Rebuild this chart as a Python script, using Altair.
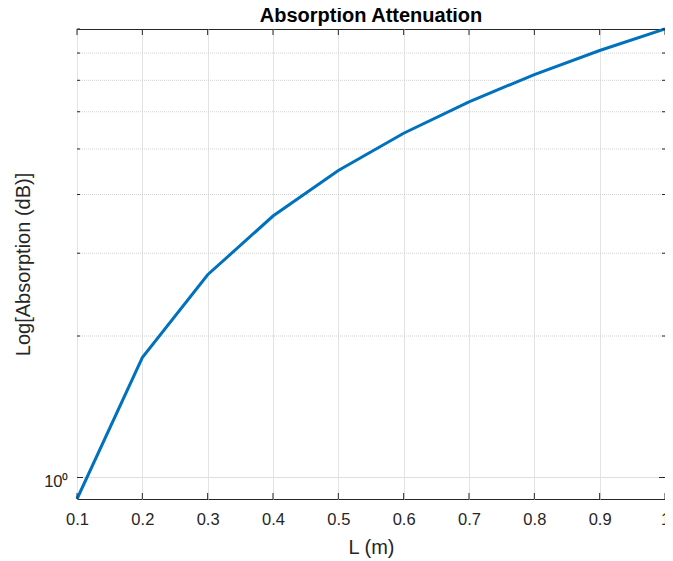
import altair as alt
import pandas as pd

# data
L_values = [0.1, 0.2, 0.3, 0.4, 0.5, 0.6, 0.7, 0.8, 0.9, 1.0]
absorption = [0.9, 1.8, 2.7, 3.6, 4.5, 5.4, 6.3, 7.2, 8.1, 9.0]
x_ticks = [0.1, 0.2, 0.3, 0.4, 0.5, 0.6, 0.7, 0.8, 0.9, 1.0]
y_minor = [2, 3, 4, 5, 6, 7, 8, 9]
y_grid_minor = [2, 3, 4, 5, 6, 7, 8]
y_major = [1]

W, H = 588, 470
FONT = "Liberation Sans"
TXT = "#262626"

xscale = alt.Scale(domain=[0.1, 1.0], nice=False, zero=False)
yscale = alt.Scale(type="log", domain=[0.9, 9.0], nice=False)

line_df = pd.DataFrame({"L": L_values, "A": absorption})
xt_df = pd.DataFrame({"v": x_ticks})
ymin_df = pd.DataFrame({"v": y_minor})
ygrid_df = pd.DataFrame({"v": y_grid_minor})
ymaj_df = pd.DataFrame({"v": y_major})

x_axis = alt.Axis(
    values=x_ticks, format=".1~f", title="L (m)", grid=True, gridColor="#e3e3e3",
    ticks=False, domain=False, labelPadding=12, labelFontSize=16.5, labelFont=FONT,
    labelColor=TXT, titleFont=FONT, titleFontSize=20, titleFontWeight="normal",
    titleColor=TXT, titlePadding=10, labelFlush=False,
)
y_axis = alt.Axis(
    values=[1], labelExpr="datum.value == 1 ? '10\u2070' : ''", title="Log[Absorption (dB)]",
    grid=False, ticks=False, domain=False, labelPadding=9, labelFontSize=16.5,
    labelFont=FONT, labelColor=TXT, labelOffset=4, titleFont=FONT, titleFontSize=20,
    titleFontWeight="normal", titleColor=TXT, titlePadding=10,
)

X = lambda f: alt.X(f, scale=xscale, axis=x_axis)
Y = lambda f: alt.Y(f, scale=yscale, axis=y_axis)

line = alt.Chart(line_df).mark_line(color="#0072BD", strokeWidth=3).encode(
    x=X("L:Q"), y=Y("A:Q"),
)

# y grid lines
grid_minor = alt.Chart(ygrid_df).mark_rule(color="#d2d2d2", strokeWidth=1, strokeDash=[1, 1]).encode(
    y=Y("v:Q")
)
grid_major = alt.Chart(ymaj_df).mark_rule(color="#dedede", strokeWidth=1).encode(
    y=Y("v:Q")
)

tick_color = "#262626"
xt_bottom = alt.Chart(xt_df).mark_rule(color=tick_color, strokeWidth=1).encode(
    x=X("v:Q"), y=alt.value(H - 6), y2=alt.value(H)
)
xt_top = alt.Chart(xt_df).mark_rule(color=tick_color, strokeWidth=1).encode(
    x=X("v:Q"), y=alt.value(0), y2=alt.value(6)
)
yt_left_min = alt.Chart(ymin_df).mark_rule(color=tick_color, strokeWidth=1).encode(
    y=Y("v:Q"), x=alt.value(0), x2=alt.value(3)
)
yt_right_min = alt.Chart(ymin_df).mark_rule(color=tick_color, strokeWidth=1).encode(
    y=Y("v:Q"), x=alt.value(W - 3), x2=alt.value(W)
)
yt_left_maj = alt.Chart(ymaj_df).mark_rule(color=tick_color, strokeWidth=1).encode(
    y=Y("v:Q"), x=alt.value(0), x2=alt.value(6)
)
yt_right_maj = alt.Chart(ymaj_df).mark_rule(color=tick_color, strokeWidth=1).encode(
    y=Y("v:Q"), x=alt.value(W - 6), x2=alt.value(W)
)

chart = alt.layer(
    grid_minor, grid_major, line, xt_bottom, xt_top,
    yt_left_min, yt_right_min, yt_left_maj, yt_right_maj,
).properties(
    width=W, height=H,
    title=alt.Title("Absorption Attenuation", font=FONT, fontSize=20, fontWeight="bold",
                    color="black", offset=-3, anchor="middle"),
    autosize=alt.AutoSizeParams(type="none"),
    padding={"left": 69, "top": 21, "right": 0, "bottom": 62},
).configure(
    background="white"
).configure_view(
    stroke="#262626", strokeWidth=1
)

chart.save("out.html", embed_options={"renderer": "svg", "actions": False})
